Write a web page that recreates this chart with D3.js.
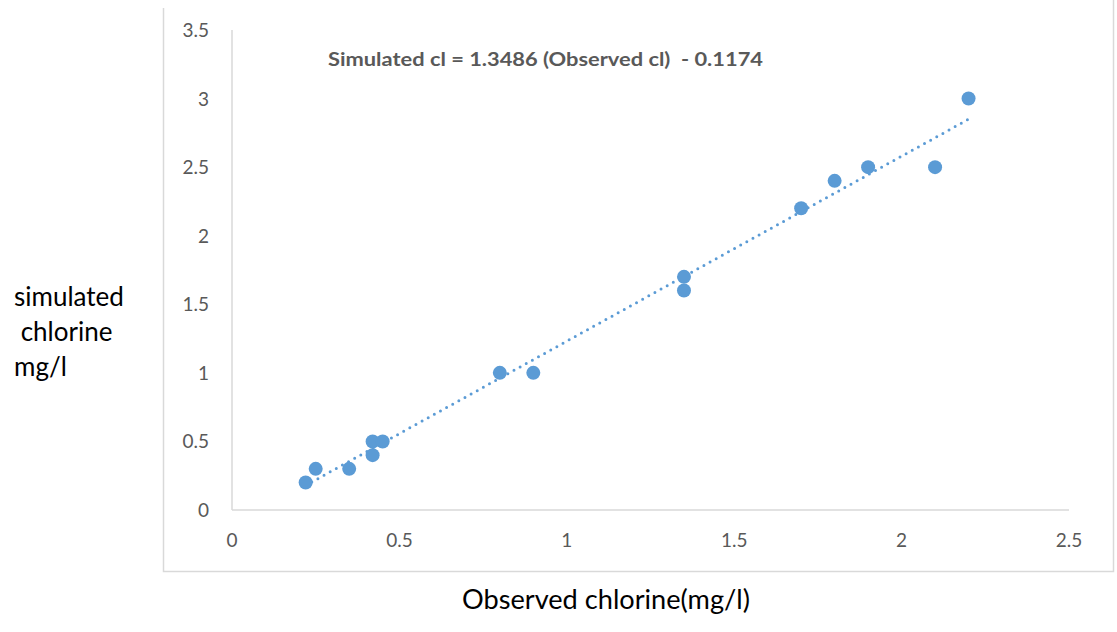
<!DOCTYPE html>
<html>
<head>
<meta charset="utf-8">
<script src="https://cdn.jsdelivr.net/npm/d3@7"></script>
<style>
  body { margin: 0; background: #fff; }
  svg text { font-family: Lato, "Liberation Sans", sans-serif; }
</style>
</head>
<body>
<svg id="chart" width="1117" height="632"></svg>
<script>
// observed vs simulated chlorine (mg/l)
var observed  = [0.22, 0.25, 0.35, 0.42, 0.45, 0.42, 0.80, 0.90, 1.35, 1.35, 1.70, 1.80, 1.90, 2.10, 2.20];
var simulated = [0.20, 0.30, 0.30, 0.50, 0.50, 0.40, 1.00, 1.00, 1.70, 1.60, 2.20, 2.40, 2.50, 2.50, 3.00];
var xTicks = [0, 0.5, 1, 1.5, 2, 2.5];
var yTicks = [0, 0.5, 1, 1.5, 2, 2.5, 3, 3.5];
var equation = "Simulated cl = 1.3486 (Observed cl)  - 0.1174";
var yTitle = ["simulated", " chlorine", "mg/l"];
var xTitle = "Observed chlorine(mg/l)";

var svg = d3.select("#chart");
var x = d3.scaleLinear().domain([0, 2.5]).range([232, 1069]);
var y = d3.scaleLinear().domain([0, 3.5]).range([510, 30]);
var grey = "#d9d9d9", txt = "#595959", blue = "#5b9bd5";

// outer chart frame
svg.append("path").attr("d", "M163.5,8V571.5H1113.5V0")
  .attr("fill", "none").attr("stroke", grey).attr("stroke-width", 1.5);

// axes lines
svg.append("line").attr("x1", x(0)).attr("x2", x(0)).attr("y1", y(3.5)).attr("y2", y(0))
  .attr("stroke", grey).attr("stroke-width", 1.5);
svg.append("line").attr("x1", x(0)).attr("x2", x(2.5)).attr("y1", y(0)).attr("y2", y(0))
  .attr("stroke", grey).attr("stroke-width", 1.5);

// tick labels
svg.selectAll("text.yt").data(yTicks).enter().append("text").attr("class", "yt")
  .attr("x", 209).attr("y", function (d) { return y(d) + 7; })
  .attr("text-anchor", "end").attr("font-size", 19).attr("fill", txt)
  .text(function (d) { return d; });
svg.selectAll("text.xt").data(xTicks).enter().append("text").attr("class", "xt")
  .attr("x", function (d) { return x(d); }).attr("y", 547)
  .attr("text-anchor", "middle").attr("font-size", 19).attr("fill", txt)
  .text(function (d) { return d; });

// linear trendline (least squares)
var mx = d3.mean(observed), my = d3.mean(simulated);
var sxy = d3.sum(observed, function (v, i) { return (v - mx) * (simulated[i] - my); });
var sxx = d3.sum(observed, function (v) { return (v - mx) * (v - mx); });
var slope = sxy / sxx, icpt = my - slope * mx;
var ext = d3.extent(observed);
svg.append("line")
  .attr("x1", x(ext[0])).attr("y1", y(slope * ext[0] + icpt))
  .attr("x2", x(ext[1])).attr("y2", y(slope * ext[1] + icpt))
  .attr("stroke", blue).attr("stroke-width", 3).attr("stroke-linecap", "round")
  .attr("stroke-dasharray", "0 7");

// points
svg.selectAll("circle").data(observed).enter().append("circle")
  .attr("cx", function (d) { return x(d); })
  .attr("cy", function (d, i) { return y(simulated[i]); })
  .attr("r", 7).attr("fill", blue);

// equation label
svg.append("text").attr("x", 328).attr("y", 66).attr("font-size", 19)
  .attr("font-weight", "bold").attr("fill", txt).style("white-space", "pre")
  .attr("textLength", 435).attr("lengthAdjust", "spacingAndGlyphs")
  .text(equation);

// axis titles
svg.selectAll("text.ytl").data(yTitle).enter().append("text").attr("class", "ytl")
  .attr("x", 14).attr("y", function (d, i) { return 306 + i * 35; })
  .attr("font-size", 26).attr("fill", "#000").style("white-space", "pre")
  .text(function (d) { return d; });
svg.append("text").attr("x", 606).attr("y", 609).attr("text-anchor", "middle")
  .attr("font-size", 26).attr("fill", "#000")
  .attr("textLength", 288).attr("lengthAdjust", "spacingAndGlyphs")
  .text(xTitle);
</script>
</body>
</html>
